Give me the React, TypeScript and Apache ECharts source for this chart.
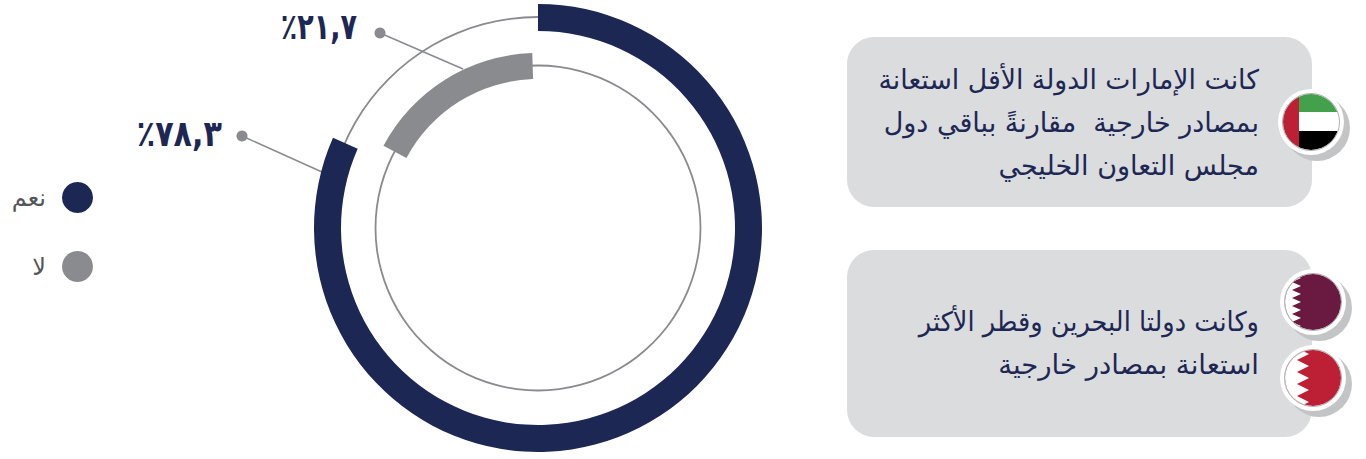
import React, { useEffect, useRef } from "react";
import * as echarts from "echarts";

const legendNames = ["نعم", "لا"];
// shares of each ring as drawn in the picture (percent of the full turn)
const navyArc = [81.6, 18.4];
const greyArc = [16.7, 83.3];
const valueLabels = ["٪٧٨,٣", "٪٢١,٧"];
const panel1Lines = [
  "كانت الإمارات الدولة الأقل استعانة",
  "بمصادر خارجية  مقارنةً بباقي دول",
  "مجلس التعاون الخليجي",
];
const panel2Lines = ["وكانت دولتا البحرين وقطر الأكثر", "استعانة بمصادر خارجية"];

const NAVY = "#1d2754";
const GREY = "#8a8b8e";
const PANEL = "#dbdcde";
const FONT = "'DejaVu Sans', sans-serif";
const CX = 538;
const CY = 228;

function zigzag(tipX: number, notchX: number, tips: number[]) {
  const pts: string[] = ["-40,-40"];
  const step = tips[1] - tips[0];
  pts.push(`${notchX},-40`);
  tips.forEach((t) => {
    pts.push(`${notchX},${t - step / 2}`);
    pts.push(`${tipX},${t}`);
  });
  pts.push(`${notchX},${tips[tips.length - 1] + step / 2}`);
  pts.push(`${notchX},40`);
  pts.push("-40,40");
  return pts.join(" ");
}

function flagSvg(body: string) {
  const svg = `<svg xmlns="http://www.w3.org/2000/svg" width="100" height="100" viewBox="-50 -50 100 100">
<defs><clipPath id="c"><circle r="28"/></clipPath></defs>
<circle cx="6" cy="6" r="33" fill="#c3c4c6"/>
<circle r="33" fill="#ffffff"/>
<g clip-path="url(#c)">${body}</g>
<circle r="28.5" fill="none" stroke="#9a9a9c" stroke-width="0.8"/>
</svg>`;
  return "data:image/svg+xml;charset=utf-8," + encodeURIComponent(svg);
}

const uaeFlag = flagSvg(
  `<rect x="-40" y="-40" width="80" height="80" fill="#fff"/>
   <rect x="-12" y="-40" width="60" height="30" fill="#43a04b"/>
   <rect x="-12" y="9" width="60" height="40" fill="#000"/>
   <rect x="-40" y="-40" width="28" height="80" fill="#bd2034"/>`
);
const qatarFlag = flagSvg(
  `<rect x="-40" y="-40" width="80" height="80" fill="#6a1a40"/>
   <polygon fill="#fff" points="${zigzag(-12, -21, [-24, -16, -8, 0, 8, 16, 24])}"/>`
);
const bahrainFlag = flagSvg(
  `<rect x="-40" y="-40" width="80" height="80" fill="#bd2034"/>
   <polygon fill="#fff" points="${zigzag(-4, -16, [-24, -12, 0, 12, 24])}"/>`
);

function textLines(lines: string[], x: number, y0: number, dy: number, scales: number[]) {
  return lines.map((t, i) => ({
    type: "text",
    x,
    y: y0 + i * dy,
    z: 5,
    scaleX: scales[i],
    style: {
      text: t,
      fill: NAVY,
      font: `27px ${FONT}`,
      textAlign: "right",
      textVerticalAlign: "middle",
    },
  }));
}

function flag(image: string, cx: number, cy: number) {
  return {
    type: "image",
    x: cx - 50,
    y: cy - 50,
    z: 4,
    style: { image, x: 0, y: 0, width: 100, height: 100 },
  };
}

function ringSeries(r0: number, r1: number, color: string, z: number) {
  return {
    type: "pie",
    center: [CX, CY],
    radius: [r0, r1],
    silent: true,
    z,
    label: { show: false },
    labelLine: { show: false },
    data: [{ value: 1, name: "ring", itemStyle: { color } }],
  };
}

function arcSeries(startAngle: number, r0: number, r1: number, name: string, color: string, vals: number[], z: number) {
  return {
    type: "pie",
    center: [CX, CY],
    radius: [r0, r1],
    startAngle,
    clockwise: true,
    silent: true,
    z,
    label: { show: false },
    labelLine: { show: false },
    data: [
      { value: vals[0], name, itemStyle: { color } },
      { value: vals[1], name: "rest", itemStyle: { color: "rgba(0,0,0,0)" } },
    ],
  };
}

function leader(dot: number[], end: number[], label: string, labelRight: number, labelY: number, sx: number) {
  return [
    {
      type: "line",
      z: 1,
      shape: { x1: dot[0], y1: dot[1], x2: end[0], y2: end[1] },
      style: { stroke: GREY, lineWidth: 1.5 },
    },
    { type: "circle", z: 1, shape: { cx: dot[0], cy: dot[1], r: 5.5 }, style: { fill: GREY } },
    {
      type: "text",
      x: labelRight,
      y: labelY,
      z: 5,
      scaleX: sx,
      style: {
        text: label,
        fill: NAVY,
        font: `bold 36px ${FONT}`,
        textAlign: "right",
        textVerticalAlign: "middle",
      },
    },
  ];
}

export default function App() {
  const ref = useRef<HTMLDivElement>(null);
  useEffect(() => {
    const chart = echarts.init(ref.current!, null, { renderer: "svg" });
    chart.setOption({
      animation: false,
      backgroundColor: "#ffffff",
      legend: {
        data: legendNames,
        orient: "vertical",
        right: 1366 - 93,
        top: 182,
        padding: 0,
        align: "right",
        icon: "circle",
        itemWidth: 31,
        itemHeight: 31,
        itemGap: 38,
        selectedMode: false,
        textStyle: { color: "#55565a", fontSize: 24, fontFamily: FONT, padding: [0, 11, 0, 0] },
      },
      series: [
        ringSeries(210.1, 211.9, GREY, 1),
        ringSeries(161.6, 163.4, GREY, 1),
        arcSeries(90, 197, 224, legendNames[0], NAVY, navyArc, 2),
        arcSeries(152, 149, 175, legendNames[1], GREY, greyArc, 2),
      ],
      graphic: [
        { type: "rect", z: 0, shape: { x: 847, y: 37, width: 465, height: 170, r: 27 }, style: { fill: PANEL } },
        { type: "rect", z: 0, shape: { x: 847, y: 250, width: 465, height: 187, r: 27 }, style: { fill: PANEL } },
        ...textLines(panel1Lines, 1259, 79, 43, [0.99, 1, 1]),
        ...textLines(panel2Lines, 1259, 322, 43, [0.95, 1.02]),
        flag(uaeFlag, 1311, 122),
        flag(qatarFlag, 1313, 302),
        flag(bahrainFlag, 1313, 378),
        ...leader([242, 136], [322, 172], valueLabels[0], 222, 134, 0.84),
        ...leader([380, 33], [463, 69], valueLabels[1], 357, 27, 0.75),
      ],
    });
    return () => chart.dispose();
  }, []);
  return <div ref={ref} style={{ position: "absolute", left: 0, top: 0, width: 1366, height: 459 }} />;
}
